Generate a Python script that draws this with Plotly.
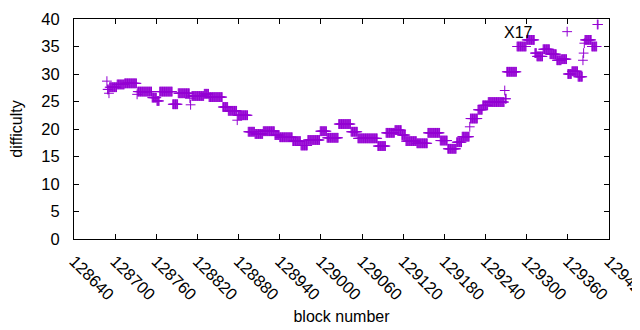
import plotly.graph_objects as go

# Run-length description of the difficulty:
# each run covers block numbers run_start..run_end (inclusive) at run_value.
run_start = [128688, 128689, 128691, 128692, 128703, 128714, 128732, 128733, 128754, 128761,
             128765, 128784, 128792, 128809, 128810, 128812, 128830, 128837, 128857, 128865,
             128878, 128879, 128894, 128904, 128916, 128933, 128940, 128959, 128971, 128981,
             128999, 129009, 129026, 129044, 129054, 129083, 129095, 129108, 129118, 129124,
             129140, 129156, 129174, 129185, 129198, 129206, 129217, 129218, 129229, 129236,
             129244, 129268, 129269, 129271, 129286, 129300, 129312, 129315, 129324, 129334,
             129344, 129351, 129359, 129360, 129366, 129375, 129382, 129383, 129384, 129385,
             129395, 129403]
run_end = [128688, 128690, 128691, 128702, 128713, 128731, 128732, 128753, 128760, 128764,
           128783, 128791, 128808, 128809, 128810, 128829, 128836, 128856, 128864, 128877,
           128878, 128893, 128903, 128915, 128932, 128939, 128958, 128970, 128980, 128998,
           129008, 129025, 129043, 129053, 129082, 129094, 129107, 129117, 129123, 129139,
           129155, 129173, 129184, 129197, 129205, 129216, 129217, 129228, 129235, 129243,
           129267, 129268, 129270, 129285, 129299, 129311, 129314, 129323, 129333, 129343,
           129350, 129358, 129359, 129365, 129374, 129381, 129382, 129383, 129384, 129394,
           129402, 129404]
run_value = [28.7, 27.2, 26.5, 27.6, 28.1, 28.3, 26.3, 26.8, 25.7, 25.1,
             26.8, 24.5, 26.5, 25.6, 24.4, 26.0, 26.4, 25.8, 24.0, 23.3,
             21.6, 22.5, 19.5, 19.1, 19.6, 18.9, 18.5, 17.8, 17.0, 18.0,
             19.6, 18.4, 20.9, 19.5, 18.3, 16.9, 19.3, 19.8, 18.9, 17.8,
             17.4, 19.3, 17.9, 16.4, 17.6, 18.6, 20.4, 21.9, 23.5, 24.3,
             24.9, 27.0, 25.5, 30.4, 35.0, 36.2, 33.8, 33.2, 34.5, 33.6,
             32.5, 32.7, 37.7, 30.0, 30.5, 29.5, 32.5, 33.8, 35.6, 36.2,
             35.0, 39.0]

x_ticks = [128640, 128700, 128760, 128820, 128880, 128940, 129000,
           129060, 129120, 129180, 129240, 129300, 129360, 129420]
y_ticks = [0, 5, 10, 15, 20, 25, 30, 35, 40]

label_text = "X17"
label_x = 129288
label_y = 37.6

blocks = []
diffs = []
for s, e, v in zip(run_start, run_end, run_value):
    for b in range(s, e + 1):
        blocks.append(b)
        diffs.append(v)

fig = go.Figure()
fig.add_trace(go.Scatter(
    x=blocks, y=diffs, mode="markers",
    marker=dict(symbol="cross-thin", size=7, color="#9400D3",
                line=dict(color="#9400D3", width=1)),
    showlegend=False, hoverinfo="skip", cliponaxis=False,
))

fig.add_annotation(x=label_x, y=label_y, text=label_text, showarrow=False,
                   font=dict(size=16, color="black"), xanchor="center", yanchor="middle")

font = "Liberation Sans, Arial, sans-serif"
# the page body adds an 8px offset, so margins are compensated for it
fig.update_layout(
    width=640, height=330,
    margin=dict(l=66, r=39, t=11, b=99, autoexpand=False),
    paper_bgcolor="white", plot_bgcolor="white",
    font=dict(family=font, size=16, color="black"),
)
fig.update_xaxes(
    range=[128640, 129420], tickmode="array", tickvals=x_ticks,
    ticktext=[str(t) for t in x_ticks], tickangle=45,
    tickfont=dict(size=16.5), ticklabeloverflow="allow",
    ticks="inside", ticklen=5, tickcolor="black", tickwidth=1,
    showline=True, linecolor="black", linewidth=1, mirror="ticks",
    showgrid=False, zeroline=False, ticklabelstandoff=5, automargin=False,
    title=dict(text="block number", standoff=8, font=dict(size=16)),
)
fig.update_yaxes(
    range=[0, 40], tickmode="array", tickvals=y_ticks,
    tickfont=dict(size=16.5), ticklabeloverflow="allow",
    ticks="inside", ticklen=5, tickcolor="black", tickwidth=1,
    showline=True, linecolor="black", linewidth=1, mirror="ticks",
    showgrid=False, zeroline=False, ticklabelstandoff=10, automargin=False,
    title=dict(text="difficulty", standoff=14, font=dict(size=16)),
)

fig.write_html("out.html")
